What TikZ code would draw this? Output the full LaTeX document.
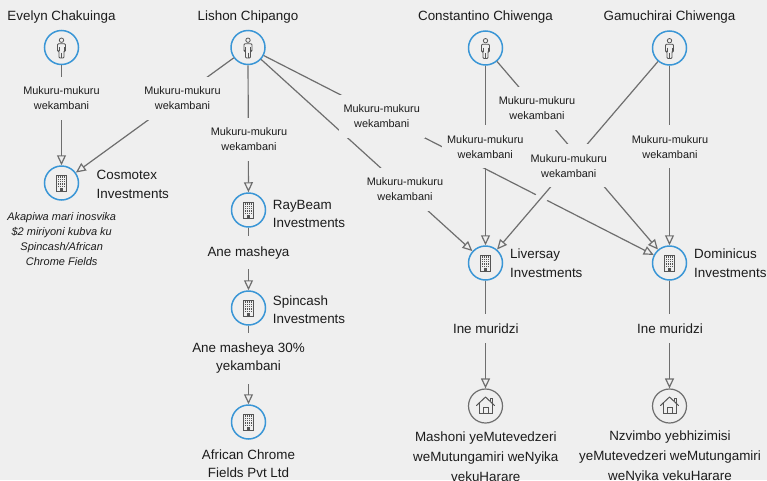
\documentclass[tikz,border=0pt]{standalone}
\usepackage{fontspec}
\setmainfont{Liberation Sans}
\usetikzlibrary{arrows.meta,calc}
\definecolor{bgC}{RGB}{239,239,239}
\definecolor{lineC}{RGB}{110,110,110}
\definecolor{blueC}{RGB}{58,150,214}
\definecolor{txtC}{RGB}{28,28,28}
\definecolor{iconC}{RGB}{85,85,85}
\tikzset{
  ent/.style={circle, draw=blueC, line width=1.5pt, fill=bgC, minimum size=34pt, inner sep=0pt},
  hse/.style={circle, draw=lineC, line width=1.2pt, fill=bgC, minimum size=34pt, inner sep=0pt},
  conn/.style={draw=lineC, line width=1.2pt, -{Triangle[open, length=10pt, width=9pt]}},
  nm/.style={font=\fontsize{13.4}{18.3}\selectfont, text=txtC, inner sep=0pt},
  lbl/.style={font=\fontsize{10.9}{15}\selectfont, text=txtC, align=center, fill=bgC, inner xsep=5pt, inner ysep=10pt},
  blbl/.style={font=\fontsize{13.4}{18.3}\selectfont, text=txtC, align=center, fill=bgC, inner xsep=5pt, inner ysep=10pt},
  pics/personicon/.style={code={
    \draw[iconC, line width=0.8pt] (0,-7.3) circle[radius=2.2pt];
    \draw[iconC, line width=0.8pt, rounded corners=1pt] (-4,-3.8) -- (4,-3.8) -- (4,3.5) -- (2.5,3.5) -- (2.5,10.5) -- (-2.5,10.5) -- (-2.5,3.5) -- (-4,3.5) -- cycle;
    \draw[iconC, line width=0.6pt] (0,5) -- (0,10.5) (-2.5,-0.5) -- (-2.5,3.5) (2.5,-0.5) -- (2.5,3.5);
  }},
  pics/bldgicon/.style={code={
    \draw[iconC, line width=0.8pt] (-5,-8) rectangle (5,8);
    \foreach \i in {0,...,3} \foreach \j in {0,...,4}
      \fill[iconC] ({-3.7+\i*2.1},{-6.6+\j*2.3}) rectangle ++(1.2,1.3);
    \fill[iconC] (-1.3,5.2) rectangle (1.3,8);
  }},
  pics/houseicon/.style={code={
    \draw[iconC, line width=1pt, line join=round, line cap=round] (-9,-0.5) -- (0,-9) -- (9,-0.5);
    \draw[iconC, line width=1pt] (-6.5,-3) -- (-6.5,7.5) -- (6.5,7.5) -- (6.5,-3);
    \draw[iconC, line width=1pt] (-2.5,7.5) -- (-2.5,1.5) -- (2.5,1.5) -- (2.5,7.5);
    \draw[iconC, line width=1pt] (4.5,-4.7) -- (4.5,-7.5) -- (6.5,-7.5) -- (6.5,-2.9);
  }},
}
\begin{document}
\begin{tikzpicture}[x=1pt,y=-1pt]
\fill[bgC] (0,0) rectangle (767,480);
\useasboundingbox (0,0) rectangle (767,480);

% entity circles
\node[ent] (E) at (61.5,47.5) {};
\node[ent] (L) at (248,47.5) {};
\node[ent] (C) at (485.5,48) {};
\node[ent] (G) at (669.5,48) {};
\node[ent] (Cos) at (61.5,183) {};
\node[ent] (R) at (248.5,210) {};
\node[ent] (S) at (248.5,308) {};
\node[ent] (A) at (248.5,422) {};
\node[ent] (Li) at (485.5,263) {};
\node[ent] (D) at (669.5,263) {};
\node[hse] (H1) at (485.5,406) {};
\node[hse] (H2) at (669.5,406) {};

\pic at (E) {personicon};
\pic at (L) {personicon};
\pic at (C) {personicon};
\pic at (G) {personicon};
\pic at (Cos) {bldgicon};
\pic at (R) {bldgicon};
\pic at (S) {bldgicon};
\pic at (A) {bldgicon};
\pic at (Li) {bldgicon};
\pic at (D) {bldgicon};
\pic at (H1) {houseicon};
\pic at (H2) {houseicon};

% names
\node[nm, anchor=base] (nE) at (61.5,20.7) {Evelyn Chakuinga};
\node[nm, anchor=base] (nL) at (248,20.7) {Lishon Chipango};
\node[nm, anchor=base] (nC) at (485.5,20.7) {Constantino Chiwenga};
\node[nm, anchor=base] (nG) at (669.5,20.7) {Gamuchirai Chiwenga};
\node[nm, align=left, anchor=west] (nCos) at (96.5,184.3) {Cosmotex\\Investments};
\node[nm, align=left, anchor=west] (nR) at (272.7,213.6) {RayBeam\\Investments};
\node[nm, align=left, anchor=west] (nS) at (272.7,310) {Spincash\\Investments};
\node[nm, align=left, anchor=west] (nLi) at (510,263.1) {Liversay\\Investments};
\node[nm, align=left, anchor=west] (nD) at (694,263.1) {Dominicus\\Investments};
\node[nm, align=center] (nA) at (248.5,463.6) {African Chrome\\Fields Pvt Ltd};
\node[nm, align=center, font=\fontsize{11}{14.8}\selectfont\itshape] (note) at (61.7,238.9) {Akapiwa mari inosvika\\\$2 miriyoni kubva ku\\Spincash/African\\Chrome Fields};
\node[nm, align=center, font=\fontsize{13.4}{20}\selectfont] (nH1) at (485.8,456.8) {Mashoni yeMutevedzeri\\weMutungamiri weNyika\\vekuHarare};
\node[nm, align=center, font=\fontsize{13.4}{20}\selectfont] (nH2) at (670,457.5) {Nzvimbo yebhizimisi\\yeMutevedzeri weMutungamiri\\weNyika vekuHarare};

% connectors
\draw[conn] (E) -- (Cos);
\draw[conn] (L) -- (Cos);
\draw[conn] (L) -- (R);
\draw[conn] (L) -- (Li);
\draw[conn] (L) -- (D);
\draw[conn] (C) -- (Li);
\draw[conn] (C) -- (D);
\draw[bgC, line width=12pt] ($(G)!0.675!(Li)$) -- ($(G)!0.72!(Li)$);
\draw[conn] (G) -- (Li);
\draw[conn] (G) -- (D);
\draw[conn] (R) -- (S);
\draw[conn] (S) -- (A);
\draw[conn] (Li) -- (H1);
\draw[conn] (D) -- (H2);

% connector labels
\node[lbl] (t1) at (61.5,98.5) {Mukuru-mukuru\\wekambani};
\node[lbl] (t2) at (182.5,98.5) {Mukuru-mukuru\\wekambani};
\node[lbl] (t3) at (249,139.5) {Mukuru-mukuru\\wekambani};
\node[lbl] (t4) at (381.7,116.2) {Mukuru-mukuru\\wekambani};
\node[lbl] (t5) at (405,189.2) {Mukuru-mukuru\\wekambani};
\node[lbl] (t6) at (537,108.3) {Mukuru-mukuru\\wekambani};
\node[lbl] (t7) at (485.3,146.8) {Mukuru-mukuru\\wekambani};
\node[lbl] (t8) at (568.8,165.8) {Mukuru-mukuru\\wekambani};
\node[lbl] (t9) at (670,146.8) {Mukuru-mukuru\\wekambani};
\node[blbl, anchor=base] (t10) at (248.5,256) {Ane masheya};
\node[blbl] (t11) at (248.5,358.2) {Ane masheya 30\%\\yekambani};
\node[blbl, anchor=base] (t12) at (485.8,333.3) {Ine muridzi};
\node[blbl, anchor=base] (t13) at (670,333.3) {Ine muridzi};
\end{tikzpicture}
\end{document}
